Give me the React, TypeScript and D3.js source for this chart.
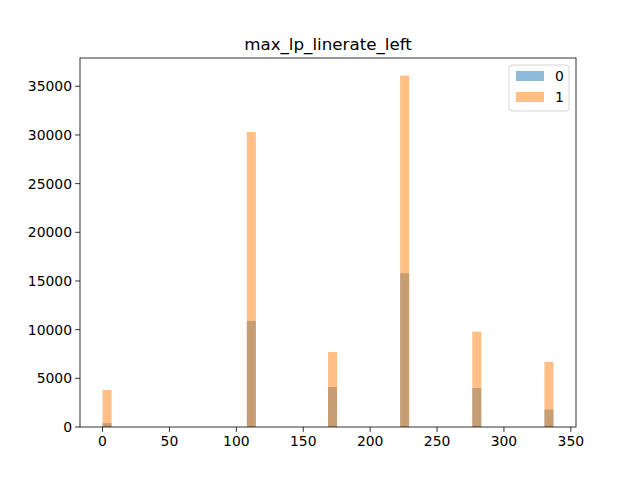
import React from 'react';
import * as d3 from 'd3';

// histogram: 50 bins over [0, 337]; only non-empty bins listed
const binStart = 0;
const binEnd = 337;
const binCount = 50;
const filledBins = [0, 16, 25, 33, 41, 49];
const counts0 = [400, 10900, 4100, 15800, 4000, 1800];
const counts1 = [3800, 30300, 7700, 36100, 9800, 6700];
const xTicks = [0, 50, 100, 150, 200, 250, 300, 350];
const yTicks = [0, 5000, 10000, 15000, 20000, 25000, 30000, 35000];
const seriesNames = ['0', '1'];
const colors = ['#1f77b4', '#ff7f0e'];

const width = 640;
const height = 480;
const marginLeft = 80;
const marginRight = 64;
const marginTop = 58;
const marginBottom = 53;

const App: React.FC = () => {
    const span = binEnd - binStart;
    const x = d3.scaleLinear()
        .domain([binStart - span * 0.05, binEnd + span * 0.05])
        .range([marginLeft, width - marginRight]);
    const yMax = d3.max(counts1)! * 1.05;
    const y = d3.scaleLinear().domain([0, yMax]).range([height - marginBottom, marginTop]);
    const bw = span / binCount;
    const font = 'DejaVu Sans, sans-serif';
    const series = [counts0, counts1];

    return (
        <svg width={width} height={height} style={{ display: 'block', margin: -8 }} fontFamily={font}>
            <rect width={width} height={height} fill="white" />
            {series.map((counts, s) => counts.map((c, i) => (
                <rect key={`${s}-${i}`}
                    x={x(binStart + filledBins[i] * bw)}
                    width={x(binStart + (filledBins[i] + 1) * bw) - x(binStart + filledBins[i] * bw)}
                    y={y(c)} height={y(0) - y(c)}
                    fill={colors[s]} fillOpacity={0.5} />
            )))}
            <rect x={marginLeft} y={marginTop} width={width - marginLeft - marginRight}
                height={height - marginTop - marginBottom} fill="none" stroke="black" strokeWidth={0.8} />
            {xTicks.map(t => (
                <g key={t} transform={`translate(${x(t)},${height - marginBottom})`}>
                    <line y2={4.9} stroke="black" strokeWidth={0.8} />
                    <text y={19} textAnchor="middle" fontSize={13.9}>{t}</text>
                </g>
            ))}
            {yTicks.map(t => (
                <g key={t} transform={`translate(${marginLeft},${y(t)})`}>
                    <line x2={-4.9} stroke="black" strokeWidth={0.8} />
                    <text x={-8} dy="0.35em" textAnchor="end" fontSize={13.9}>{t}</text>
                </g>
            ))}
            <text x={(marginLeft + width - marginRight) / 2} y={marginTop - 8} textAnchor="middle" fontSize={16.7}>max_lp_linerate_left</text>
            <g transform={`translate(${width - marginRight - 67},${marginTop + 7})`}>
                <rect width={60} height={46} rx={3} fill="white" fillOpacity={0.8} stroke="#cccccc" strokeWidth={0.8} />
                {seriesNames.map((n, i) => (
                    <g key={n} transform={`translate(7,${6 + i * 21})`}>
                        <rect width={28} height={10} fill={colors[i]} fillOpacity={0.5} />
                        <text x={39} y={5} dy="0.35em" fontSize={13.9}>{n}</text>
                    </g>
                ))}
            </g>
        </svg>
    );
};

export default App;
